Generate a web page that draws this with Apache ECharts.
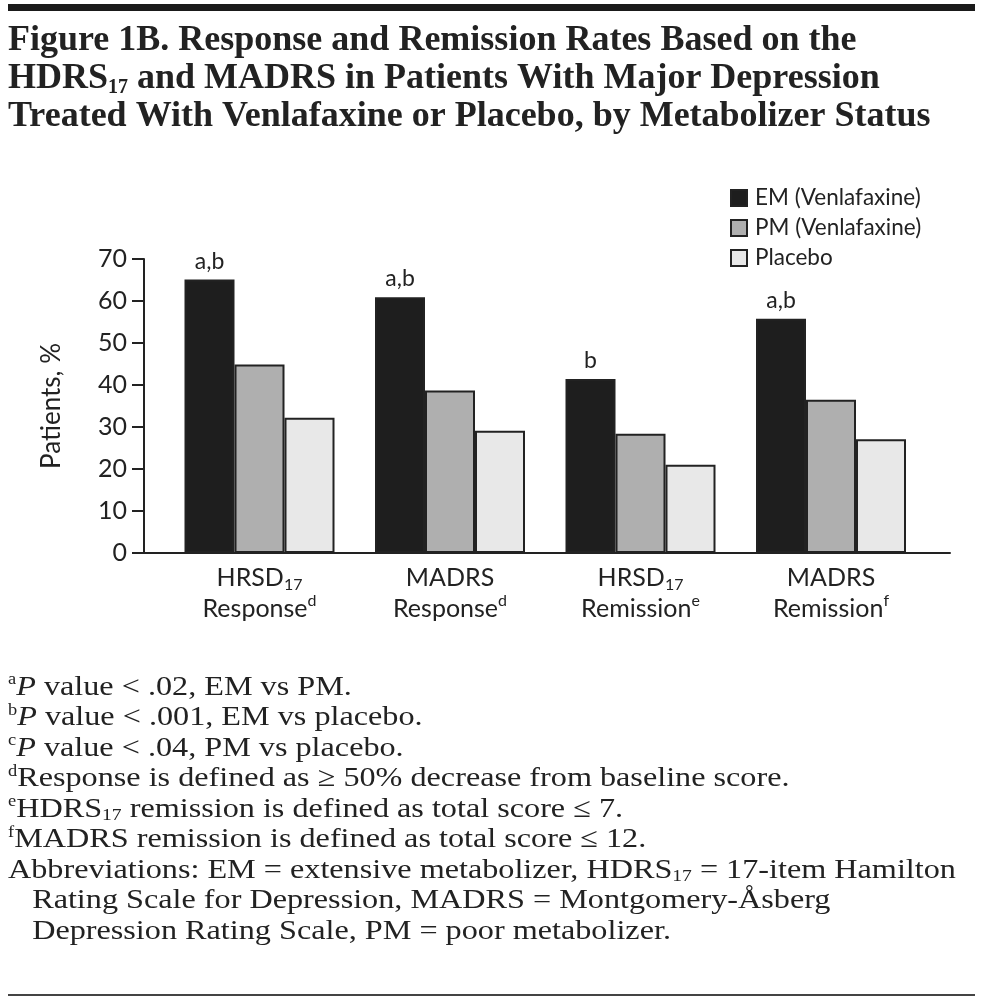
<!DOCTYPE html>
<html>
<head>
<meta charset="utf-8">
<script src="https://cdn.jsdelivr.net/npm/echarts@6/dist/echarts.min.js"></script>
<style>
html,body{margin:0;padding:0;background:#fff;}
#chart{width:983px;height:1002px;}
</style>
</head>
<body>
<div id="chart"></div>
<script>
// ---- data ----
var categories = [
  '{m|HRSD}{sub|17}\n{m|Response}{sup|d}',
  '{m|MADRS}\n{m|Response}{sup|d}',
  '{m|HRSD}{sub|17}\n{m|Remission}{sup|e}',
  '{m|MADRS}\n{m|Remission}{sup|f}'
];
var seriesNames = ['EM (Venlafaxine)', 'PM (Venlafaxine)', 'Placebo'];
var emValues = [65.1, 60.9, 41.4, 55.8];
var pmValues = [44.9, 38.7, 28.4, 36.5];
var placeboValues = [32.2, 29.1, 21.0, 27.1];
var emMarks = ['a,b', 'a,b', 'b', 'a,b'];
var yTicks = [0, 10, 20, 30, 40, 50, 60, 70];

var SANS = 'Lato, "Open Sans", sans-serif';
var SERIF = '"Liberation Serif", "DejaVu Serif", serif';
var DARK = '#222222';

var chart = echarts.init(document.getElementById('chart'), null, {renderer: 'canvas'});

var axisLabelRich = {
  m: {fontFamily: SANS, fontSize: 25, color: DARK, lineHeight: 31},
  sub: {fontFamily: SANS, fontSize: 16, color: DARK, lineHeight: 14, verticalAlign: 'bottom'},
  sup: {fontFamily: SANS, fontSize: 16, color: DARK, lineHeight: 18, verticalAlign: 'top'}
};

var FS = 28;
var footRich = {
  n: {fontFamily: SERIF, fontSize: FS, fill: DARK, lineHeight: 30.5},
  i: {fontFamily: SERIF, fontSize: FS, fill: DARK, lineHeight: 30.5, fontStyle: 'italic'},
  sp: {fontFamily: SERIF, fontSize: 16, fill: DARK, lineHeight: 16, verticalAlign: 'top'},
  sb: {fontFamily: SERIF, fontSize: 17, fill: DARK, lineHeight: 10, verticalAlign: 'bottom'}
};

var footText = [
  '{sp|a}{i|P}{n| value < .02, EM vs PM.}',
  '{sp|b}{i|P}{n| value < .001, EM vs placebo.}',
  '{sp|c}{i|P}{n| value < .04, PM vs placebo.}',
  '{sp|d}{n|Response is defined as ≥ 50% decrease from baseline score.}',
  '{sp|e}{n|HDRS}{sb|17}{n| remission is defined as total score ≤ 7.}',
  '{sp|f}{n|MADRS remission is defined as total score ≤ 12.}',
  '{n|Abbreviations: EM = extensive metabolizer, HDRS}{sb|17}{n| = 17-item Hamilton}',
  '{n|   Rating Scale for Depression, MADRS = Montgomery-Åsberg}',
  '{n|   Depression Rating Scale, PM = poor metabolizer.}'
].join('\n');

function barSeries(name, values, color, withMarks) {
  var s = {
    name: name,
    type: 'bar',
    xAxisIndex: 0,
    yAxisIndex: 0,
    data: values,
    barWidth: 50,
    barGap: '0%',
    itemStyle: {color: color, borderColor: DARK, borderWidth: 2},
    emphasis: {disabled: true},
    animation: false
  };
  if (withMarks) {
    s.label = {
      show: true,
      position: 'top',
      distance: 7,
      fontFamily: SANS,
      fontSize: 23,
      color: DARK,
      formatter: function (p) { return emMarks[p.dataIndex]; }
    };
  }
  return s;
}

var option = {
  animation: false,
  backgroundColor: '#ffffff',
  title: [
    {
      left: 8, top: 22, padding: 0,
      text: '{t|Figure 1B. Response and Remission Rates Based on the}\n{t|HDRS}{s|17}{t| and MADRS in Patients With Major Depression}\n{t|Treated With Venlafaxine or Placebo, by Metabolizer Status}',
      textStyle: {
        rich: {
          t: {fontFamily: SERIF, fontSize: 36, color: DARK, lineHeight: 38, fontWeight: 'bold'},
          s: {fontFamily: SERIF, fontSize: 20, color: DARK, lineHeight: 20, verticalAlign: 'bottom', fontWeight: 'bold'}
        }
      }
    }
  ],
  legend: {
    orient: 'vertical',
    left: 725,
    top: 181,
    itemWidth: 16,
    itemHeight: 16,
    itemGap: 6,
    icon: 'rect',
    data: seriesNames,
    textStyle: {fontFamily: SANS, fontSize: 22.5, lineHeight: 24, color: DARK, padding: [0, 0, 0, 3]}
  },
  grid: [
    {left: 164.25, right: 56.75, top: 259, bottom: 449},
    {left: 144, right: 33, top: 259, bottom: 449}
  ],
  xAxis: [
    {
      gridIndex: 0,
      type: 'category',
      data: categories,
      axisLine: {show: false},
      axisTick: {show: false},
      axisLabel: {margin: 9, rich: axisLabelRich, interval: 0}
    },
    {
      gridIndex: 1,
      type: 'value',
      min: 0, max: 1,
      axisLine: {show: true, onZero: false, lineStyle: {color: DARK, width: 2}},
      axisTick: {show: false},
      axisLabel: {show: false},
      splitLine: {show: false}
    }
  ],
  yAxis: [
    {
      gridIndex: 0,
      type: 'value',
      min: 0, max: 70, interval: 10,
      show: false
    },
    {
      gridIndex: 1,
      type: 'value',
      min: yTicks[0], max: yTicks[yTicks.length - 1], interval: 10,
      name: 'Patients, %',
      nameLocation: 'middle',
      nameRotate: 90,
      nameGap: 79,
      nameTextStyle: {fontFamily: SANS, fontSize: 26, color: DARK},
      axisLine: {show: true, lineStyle: {color: DARK, width: 2}},
      axisTick: {show: true, inside: false, length: 12, lineStyle: {color: DARK, width: 2}},
      axisLabel: {margin: 17, fontFamily: SANS, fontSize: 25, color: DARK},
      splitLine: {show: false}
    }
  ],
  graphic: [
    {type: 'rect', shape: {x: 8, y: 4, width: 967, height: 7}, style: {fill: '#1a1a1a'}},
    {type: 'rect', shape: {x: 8, y: 994, width: 967, height: 2}, style: {fill: '#444'}},
    {
      type: 'text', x: 8, y: 672, scaleX: 1.15,
      style: {text: footText, rich: footRich, fontFamily: SERIF, fontSize: FS, fill: DARK}
    }
  ],
  series: [
    barSeries(seriesNames[0], emValues, '#1e1e1e', true),
    barSeries(seriesNames[1], pmValues, '#afafaf', false),
    barSeries(seriesNames[2], placeboValues, '#e8e8e8', false)
  ]
};

chart.setOption(option);
</script>
</body>
</html>
